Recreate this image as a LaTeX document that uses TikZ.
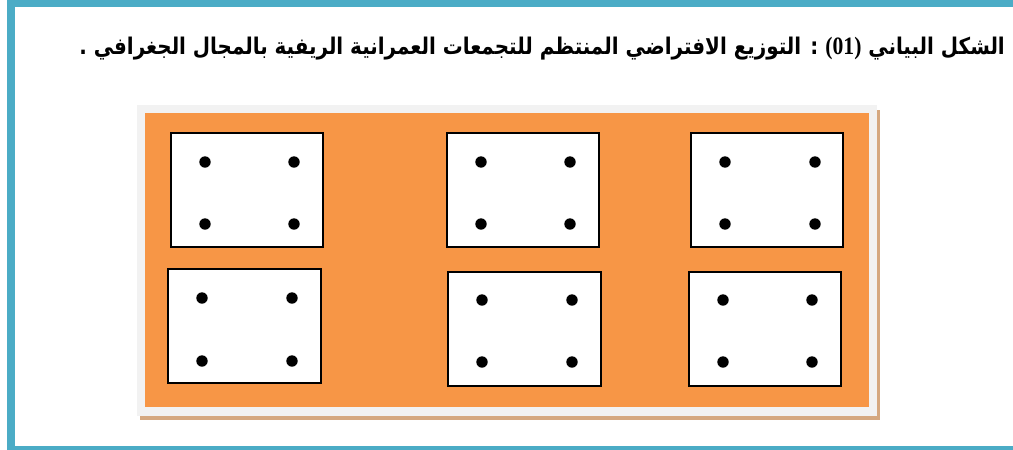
\documentclass[tikz,border=0pt]{standalone}
\usepackage{fontspec}
\TeXXeTstate=1
\newfontfamily\arabicfont[Script=Arabic]{DejaVu Sans}
\newfontfamily\latinserif{Liberation Serif}
\definecolor{frameteal}{HTML}{4BACC6}
\definecolor{mapor}{HTML}{F79646}
\definecolor{mapgray}{HTML}{F2F2F2}
\definecolor{maptan}{HTML}{D5A880}
\tikzset{
  cellbox/.style={draw=black, line width=1.5pt, fill=white},
  village/.style={fill=black},
}
\begin{document}
\begin{tikzpicture}[x=1pt,y=-1pt]
\useasboundingbox (0,0) rectangle (1013,450);
\clip (0,0) rectangle (1013,450);
% outer teal frame
\fill[frameteal] (7,-10) rectangle (1030,460);
\fill[white] (15,7) rectangle (1030,446);
% title
\node[anchor=base east, inner sep=0pt, xscale=0.865, font=\arabicfont\bfseries\fontsize{23}{27}\selectfont] (title) at (1005,54)
 {\beginR الشكل البياني \beginL{\latinserif\bfseries\fontsize{25}{27}\selectfont (01)}\endL{} : التوزيع الافتراضي المنتظم للتجمعات العمرانية الريفية بالمجال الجغرافي .\endR};
% map area
\fill[maptan] (140,110) rectangle (880,420);
\fill[mapgray] (137,105) rectangle (877,416);
\fill[mapor] (145,113) rectangle (869,407);
% boxes: top row
\draw[cellbox] (171,133) rectangle (323,247);
\draw[cellbox] (447,133) rectangle (599,247);
\draw[cellbox] (691,133) rectangle (843,247);
% boxes: bottom row
\draw[cellbox] (168,269) rectangle (321,383);
\draw[cellbox] (448,272) rectangle (601,386);
\draw[cellbox] (689,272) rectangle (841,386);
% villages
\foreach \x/\y in {205/162,294/162,205/224,294/224,
                   481/162,570/162,481/224,570/224,
                   725/162,815/162,725/224,815/224,
                   202/298,292/298,202/361,292/361,
                   482/300,572/300,482/362,572/362,
                   723/300,812/300,723/362,812/362}
  \fill[village] (\x,\y) circle (5.7pt);
\end{tikzpicture}
\end{document}
